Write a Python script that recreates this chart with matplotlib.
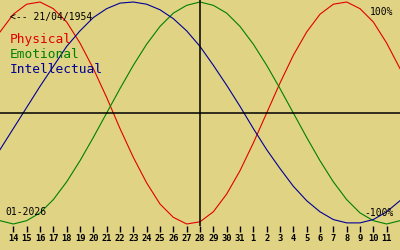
import numpy as np
import matplotlib
matplotlib.use("Agg")
import matplotlib.pyplot as plt

### Chart data (day offsets from the centre date 28 Dec)
days = list(range(-15, 16))
tick_days = list(range(-14, 15))
tick_labels = ["14", "15", "16", "17", "18", "19", "20", "21", "22", "23", "24",
               "25", "26", "27", "28", "29", "30", "31", "1", "2", "3", "4", "5",
               "6", "7", "8", "9", "10", "11"]

physical = [0.73, 0.89, 0.98, 1.00, 0.94, 0.82, 0.63, 0.40, 0.14, -0.14, -0.40,
            -0.63, -0.82, -0.94, -1.00, -0.98, -0.89, -0.73, -0.52, -0.27, 0.00,
            0.27, 0.52, 0.73, 0.89, 0.98, 1.00, 0.94, 0.82, 0.63, 0.40]
emotional = [-0.97, -1.00, -0.97, -0.90, -0.78, -0.62, -0.43, -0.22, 0.00, 0.22,
             0.43, 0.62, 0.78, 0.90, 0.97, 1.00, 0.97, 0.90, 0.78, 0.62, 0.43,
             0.22, 0.00, -0.22, -0.43, -0.62, -0.78, -0.90, -0.97, -1.00, -0.97]
intellectual = [-0.33, -0.14, 0.05, 0.24, 0.42, 0.60, 0.74, 0.86, 0.94, 0.99, 1.00,
                0.98, 0.93, 0.85, 0.74, 0.60, 0.43, 0.25, 0.06, -0.14, -0.33,
                -0.50, -0.66, -0.79, -0.89, -0.96, -0.99, -0.99, -0.96, -0.89, -0.79]

birth_label = "<-- 21/04/1954"
month_label = "01-2026"

bg = "#e0d384"
c_phys = "#e00000"
c_emo = "#008000"
c_int = "#000096"

### Figure, 400x250 px
fig = plt.figure(figsize=(4, 2.5), dpi=100, facecolor=bg)
ax = fig.add_axes([0, 24/250, 1, 226/250], facecolor=bg)

### Curves
ax.plot(days, physical, color=c_phys, lw=0.8)
ax.plot(days, emotional, color=c_emo, lw=0.8)
ax.plot(days, intellectual, color=c_int, lw=0.8)

### Axes cross
ax.axhline(0, color="black", lw=1.1)
ax.axvline(0, color="black", lw=1.1)

### Decorate
ax.set_xlim(-15, 15)
ax.set_ylim(-113/111, 113/111)
for s in ax.spines.values():
    s.set_visible(False)
ax.set_yticks([])
ax.set_xticks(tick_days)
ax.set_xticklabels(tick_labels, fontfamily="DejaVu Sans Mono", fontsize=6.3,
                   fontweight="bold")
ax.tick_params(axis="x", direction="out", length=4, width=1, pad=2,
               colors="black")

def put(x, y, s, **kw):
    fig.text(x/400, 1 - y/250, s, fontfamily="DejaVu Sans Mono", **kw)

put(10, 17, birth_label, fontsize=7, va="center", ha="left")
put(10, 42.7, "Physical", fontsize=9.3, color=c_phys, va="baseline")
put(10, 57.7, "Emotional", fontsize=9.3, color=c_emo, va="baseline")
put(10, 72.7, "Intellectual", fontsize=9.3, color=c_int, va="baseline")
put(393, 12, "100%", fontsize=7, va="center", ha="right")
put(394, 212.5, "-100%", fontsize=7, va="center", ha="right")
put(5, 212, month_label, fontsize=7, va="center", ha="left")

fig.savefig("out.png", dpi=100, facecolor=bg)
